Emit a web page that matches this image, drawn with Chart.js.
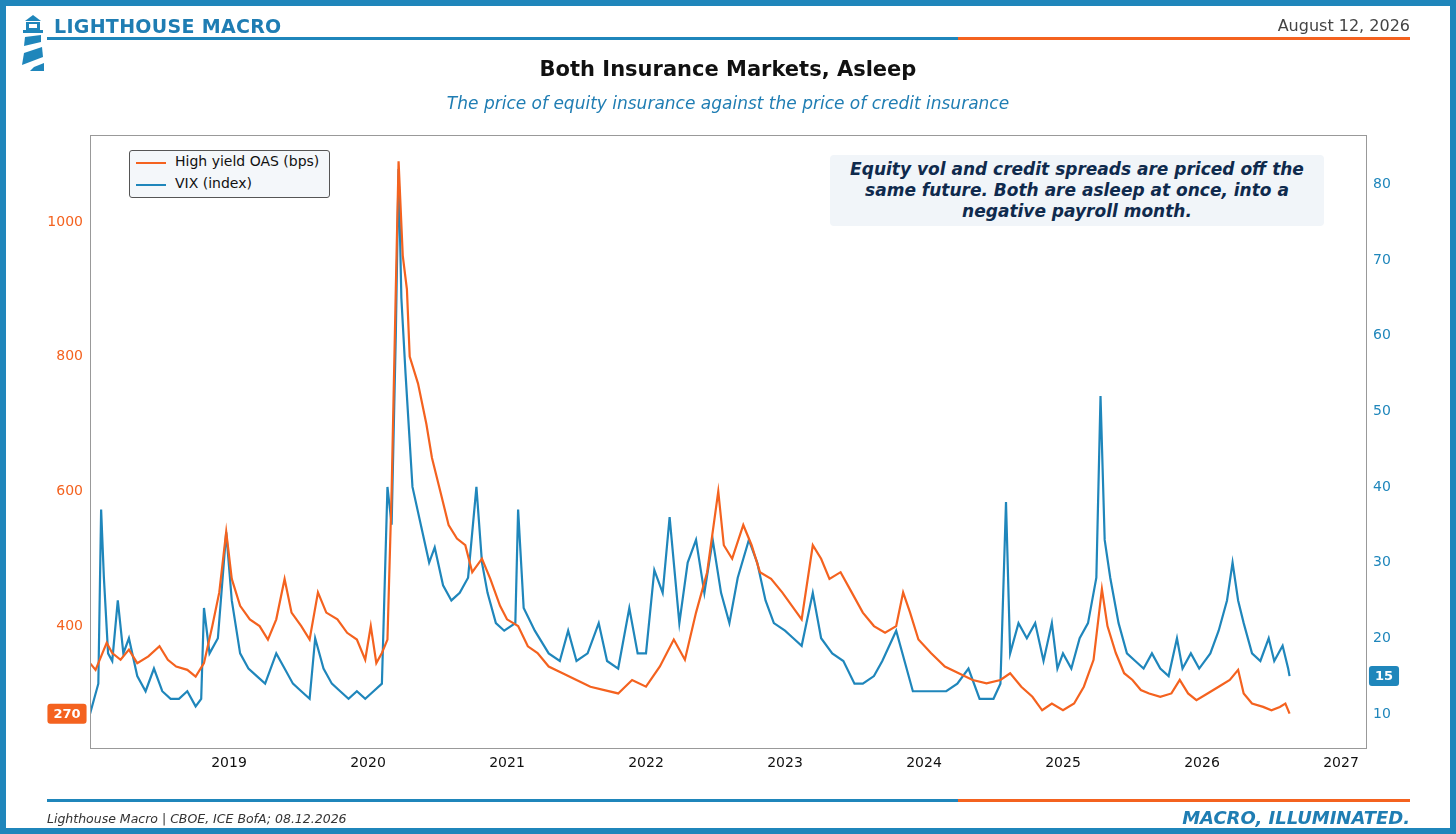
<!DOCTYPE html>
<html>
<head>
<meta charset="utf-8">
<script src="https://cdn.jsdelivr.net/npm/chart.js@4"></script>
<style>
  html, body { margin: 0; padding: 0; }
  body { width: 1456px; height: 834px; position: relative; overflow: hidden; background: #fff; font-family: "DejaVu Sans", sans-serif; }
  .frame { position: absolute; left: 0; top: 0; width: 1444px; height: 822px; border: 6px solid #1f86bb; }
  .abs { position: absolute; }
  #brand { left: 54px; top: 15px; font-size: 19px; font-weight: bold; color: #1f7db3; letter-spacing: 0.3px; }
  #date { right: 46px; top: 16px; font-size: 16px; color: #444; }
  .bar { height: 3px; }
  #title { left: 0; width: 1456px; top: 57px; text-align: center; font-size: 21px; font-weight: bold; color: #111; }
  #sub { left: 0; width: 1456px; top: 93px; text-align: center; font-size: 17px; font-style: italic; color: #1f7db3; }
  #legend { left: 129px; top: 150px; width: 199px; height: 46px; border: 1px solid #555; border-radius: 3px; background: #f4f7fa; font-size: 14px; color: #111; }
  #legend div { position: absolute; left: 45px; }
  #legend span { position: absolute; left: -39px; top: 9px; width: 30px; height: 2px; }
  #note { left: 830px; top: 155px; width: 494px; height: 71px; background: #f1f5f9; border-radius: 4px; text-align: center; font-size: 17px; font-weight: bold; font-style: italic; color: #0f2a4d; line-height: 21px; padding-top: 4px; box-sizing: border-box; }
  #src { left: 47px; top: 811px; font-size: 12.5px; font-style: italic; color: #333; }
  #tag { right: 46px; top: 807px; font-size: 18px; font-weight: bold; font-style: italic; color: #1f7db3; }
</style>
</head>
<body>
<div class="frame"></div>
<canvas id="c" width="1456" height="834" style="position:absolute;left:0;top:0"></canvas>
<svg class="abs" style="left:20px;top:15px" width="26" height="58" viewBox="0 0 26 58">
  <polygon points="13,0 21,6 5,6" fill="#1f86bb"/>
  <rect x="6" y="7" width="14" height="8" fill="#1f86bb"/>
  <rect x="9" y="9" width="8" height="4" fill="#fff"/>
  <rect x="3" y="15" width="20" height="3" fill="#1f86bb"/>
  <polygon points="5,22 21,20 21,27 4,31" fill="#1f86bb"/>
  <polygon points="4,38 22,32 23,42 2,50" fill="#1f86bb"/>
  <polygon points="14,52 24,48 24,56 10,56" fill="#1f86bb"/>
</svg>
<div class="abs" id="brand">LIGHTHOUSE MACRO</div>
<div class="abs" id="date">August 12, 2026</div>
<div class="abs bar" style="left:47px;top:37px;width:911px;background:#1f86bb"></div>
<div class="abs bar" style="left:958px;top:37px;width:452px;background:#f4621f"></div>
<div class="abs" id="title">Both Insurance Markets, Asleep</div>
<div class="abs" id="sub">The price of equity insurance against the price of credit insurance</div>
<div class="abs" id="legend">
  <div style="top:2px"><span style="background:#f4621f"></span>High yield OAS (bps)</div>
  <div style="top:24px"><span style="background:#1f86bb"></span>VIX (index)</div>
</div>
<div class="abs" id="note">Equity vol and credit spreads are priced off the<br>same future. Both are asleep at once, into a<br>negative payroll month.</div>
<div class="abs bar" style="left:47px;top:799px;width:911px;background:#1f86bb"></div>
<div class="abs bar" style="left:958px;top:799px;width:452px;background:#f4621f"></div>
<div class="abs" id="src">Lighthouse Macro | CBOE, ICE BofA; 08.12.2026</div>
<div class="abs" id="tag">MACRO, ILLUMINATED.</div>
<script>
const ORANGE = '#f4621f';
const BLUE = '#1f86bb';

// High yield OAS, bps (decimal year, value)
const hyDates = [2018.00,2018.04,2018.08,2018.12,2018.16,2018.22,2018.28,2018.34,2018.42,2018.50,2018.56,2018.62,2018.70,2018.76,2018.82,2018.88,2018.93,2018.98,
  2019.02,2019.08,2019.15,2019.22,2019.28,2019.34,2019.40,2019.45,2019.52,2019.58,2019.64,2019.70,2019.78,2019.85,2019.92,2019.98,
  2020.02,2020.06,2020.10,2020.14,2020.17,2020.20,2020.22,2020.25,2020.28,2020.30,2020.36,2020.42,2020.46,2020.52,2020.58,2020.64,2020.70,2020.75,2020.82,2020.88,2020.95,
  2021.00,2021.08,2021.15,2021.22,2021.30,2021.40,2021.50,2021.60,2021.70,2021.80,2021.90,
  2022.00,2022.10,2022.20,2022.28,2022.36,2022.44,2022.50,2022.52,2022.56,2022.62,2022.70,2022.76,2022.82,2022.90,2022.98,
  2023.05,2023.12,2023.20,2023.26,2023.32,2023.40,2023.48,2023.56,2023.64,2023.72,2023.80,2023.85,2023.90,2023.96,
  2024.05,2024.15,2024.25,2024.35,2024.45,2024.55,2024.62,2024.70,2024.78,2024.85,2024.92,
  2025.00,2025.08,2025.15,2025.22,2025.28,2025.32,2025.38,2025.44,2025.50,2025.56,2025.62,2025.70,2025.78,2025.84,2025.90,2025.96,
  2026.04,2026.12,2026.20,2026.26,2026.30,2026.36,2026.44,2026.50,2026.56,2026.60,2026.63];
const hyValues = [345,335,355,375,360,350,365,345,355,370,350,340,335,325,345,400,450,540,
  470,430,410,400,380,410,470,420,400,380,450,420,410,390,380,350,
  400,345,360,380,600,900,1090,950,900,800,760,700,650,600,550,530,520,480,500,470,430,
  410,400,370,360,340,330,320,310,305,300,320,
  310,340,380,350,420,480,570,600,520,500,550,520,480,470,450,
  430,410,520,500,470,480,450,420,400,390,400,450,420,380,
  360,340,330,320,315,320,330,310,295,275,285,
  275,285,310,350,455,400,360,330,320,305,300,295,300,320,300,290,
  300,310,320,335,300,285,280,275,280,285,270];

// VIX index (decimal year, value)
const vixDates = [2018.00,2018.03,2018.06,2018.08,2018.10,2018.13,2018.16,2018.20,2018.24,2018.28,2018.34,2018.40,2018.46,2018.52,2018.58,2018.64,2018.70,2018.76,2018.80,2018.82,2018.86,2018.92,2018.98,
  2019.02,2019.08,2019.14,2019.20,2019.26,2019.34,2019.40,2019.46,2019.52,2019.58,2019.62,2019.68,2019.74,2019.80,2019.86,2019.92,2019.98,
  2020.04,2020.10,2020.14,2020.17,2020.20,2020.22,2020.24,2020.27,2020.32,2020.38,2020.44,2020.48,2020.54,2020.60,2020.66,2020.72,2020.78,2020.82,2020.86,2020.92,2020.98,
  2021.06,2021.08,2021.12,2021.20,2021.30,2021.38,2021.44,2021.50,2021.58,2021.66,2021.72,2021.80,2021.88,2021.94,
  2022.00,2022.06,2022.12,2022.17,2022.24,2022.30,2022.36,2022.42,2022.48,2022.54,2022.60,2022.66,2022.74,2022.80,2022.86,2022.92,
  2023.00,2023.06,2023.12,2023.20,2023.26,2023.34,2023.42,2023.50,2023.56,2023.64,2023.70,2023.80,2023.86,2023.92,
  2024.00,2024.08,2024.16,2024.24,2024.32,2024.40,2024.50,2024.55,2024.59,2024.62,2024.68,2024.74,2024.80,2024.86,2024.92,2024.96,
  2025.00,2025.06,2025.12,2025.18,2025.24,2025.27,2025.30,2025.34,2025.40,2025.46,2025.52,2025.58,2025.64,2025.70,2025.76,2025.82,2025.86,2025.92,2025.98,
  2026.06,2026.12,2026.18,2026.22,2026.26,2026.30,2026.36,2026.42,2026.48,2026.52,2026.58,2026.62,2026.63];
const vixValues = [10,12,14,37,28,18,17,25,18,20,15,13,16,13,12,12,13,11,12,24,18,20,34,
  25,18,16,15,14,18,16,14,13,12,20,16,14,13,12,13,12,
  13,14,40,35,60,82,65,55,40,35,30,32,27,25,26,28,40,30,26,22,21,
  22,37,24,21,18,17,21,17,18,22,17,16,24,18,
  18,29,26,36,22,30,33,26,33,26,22,28,33,30,25,22,
  21,20,19,26,20,18,17,14,14,15,17,21,17,13,
  13,13,13,14,16,12,12,14,38,18,22,20,22,17,22,16,
  18,16,20,22,28,52,33,28,22,18,17,16,18,16,15,20,16,18,16,
  18,21,25,30,25,22,18,17,20,17,19,16,15];

const xTicks = [2018,2019,2020,2021,2022,2023,2024,2025,2026,2027];

const pts = (d, v) => d.map((x, i) => ({ x, y: v[i] }));

const frameAndBadges = {
  id: 'frameAndBadges',
  afterDraw(chart) {
    const { ctx, chartArea: a, scales } = chart;
    ctx.save();
    ctx.strokeStyle = '#999'; ctx.lineWidth = 1;
    ctx.strokeRect(a.left + 0.5, a.top + 0.5, a.right - a.left, a.bottom - a.top);
    function badge(text, cx, cy, color) {
      ctx.font = 'bold 13px "DejaVu Sans"';
      const w = ctx.measureText(text).width + 12, h = 20;
      ctx.fillStyle = color;
      ctx.beginPath(); ctx.roundRect(cx - w / 2, cy - h / 2, w, h, 3); ctx.fill();
      ctx.fillStyle = '#fff'; ctx.textAlign = 'center'; ctx.textBaseline = 'middle';
      ctx.fillText(text, cx, cy + 1);
    }
    badge(String(hyValues[hyValues.length - 1]), a.left - 23, scales.y.getPixelForValue(hyValues[hyValues.length - 1]), ORANGE);
    badge(String(Math.round(vixValues[vixValues.length - 1])), a.right + 18, scales.y1.getPixelForValue(vixValues[vixValues.length - 1]), BLUE);
    ctx.restore();
  }
};

new Chart(document.getElementById('c'), {
  type: 'line',
  data: {
    datasets: [
      { label: 'High yield OAS (bps)', data: pts(hyDates, hyValues), borderColor: ORANGE, borderWidth: 2.2, pointRadius: 0, tension: 0, yAxisID: 'y' },
      { label: 'VIX (index)', data: pts(vixDates, vixValues), borderColor: BLUE, borderWidth: 2.2, pointRadius: 0, tension: 0, yAxisID: 'y1' }
    ]
  },
  options: {
    responsive: false, animation: false,
    layout: { padding: { left: 40, right: 40, top: 135, bottom: 59 } },
    plugins: { legend: { display: false }, tooltip: { enabled: false } },
    scales: {
      x: {
        type: 'linear', min: 2018, max: 2027.18,
        afterBuildTicks: s => { s.ticks = xTicks.map(v => ({ value: v })); },
        afterFit: s => { s.height = 27; },
        grid: { display: false, drawTicks: true, tickLength: 4 },
        border: { display: false },
        ticks: { color: '#111', font: { family: 'DejaVu Sans', size: 14 }, callback: v => v === 2018 ? '' : String(v), maxRotation: 0 }
      },
      y: {
        position: 'left', min: 219, max: 1129,
        afterBuildTicks: s => { s.ticks = [400, 600, 800, 1000].map(v => ({ value: v })); },
        afterFit: s => { s.width = 50; },
        grid: { display: false, tickLength: 4 }, border: { display: false },
        ticks: { color: ORANGE, font: { family: 'DejaVu Sans', size: 14 }, callback: v => String(v) }
      },
      y1: {
        position: 'right', min: 5.5, max: 86.5,
        afterBuildTicks: s => { s.ticks = [10, 20, 30, 40, 50, 60, 70, 80].map(v => ({ value: v })); },
        afterFit: s => { s.width = 50; },
        grid: { display: false, tickLength: 4 }, border: { display: false },
        ticks: { color: BLUE, font: { family: 'DejaVu Sans', size: 14 }, callback: v => String(v) }
      }
    }
  },
  plugins: [frameAndBadges]
});
</script>
</body>
</html>
